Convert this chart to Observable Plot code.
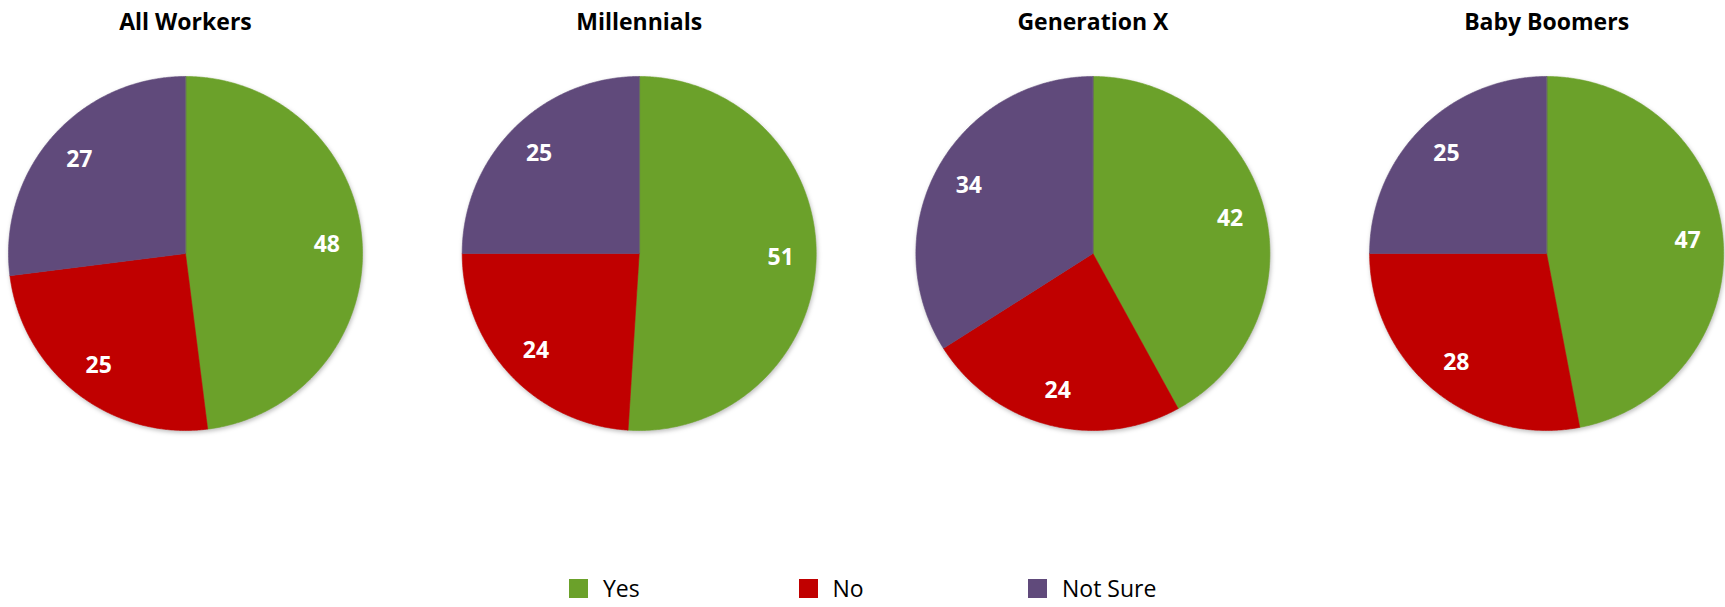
<!DOCTYPE html>
<html><head><meta charset="utf-8">
<script src="https://cdn.jsdelivr.net/npm/d3@7"></script>
<script src="https://cdn.jsdelivr.net/npm/@observablehq/plot@0.6"></script>
<style>
html,body{margin:0;padding:0;background:#fff;overflow:hidden;width:1725px;height:607px;}
#chart{position:absolute;left:0;top:0;}
#legend{position:absolute;left:569px;top:572px;}
</style></head><body>
<div id="chart"></div><div id="legend"></div>
<script>
// ---- data ----
const groups = ["All Workers", "Millennials", "Generation X", "Baby Boomers"];
const answers = ["Yes", "No", "Not Sure"];
const yesValues = [48, 51, 42, 47];
const noValues = [25, 24, 24, 28];
const notSureValues = [27, 25, 34, 25];
const answerColors = ["#6BA12A", "#C00000", "#604A7B"];

// ---- layout ----
const W = 1725, H = 570, R = 177, CX0 = 185, CY = 253, STEP = 453.7;
const seriesValues = [yesValues, noValues, notSureValues];
const cxOf = i => i * STEP / R;

const slices = [];
groups.forEach((g, i) => {
  const total = d3.sum(seriesValues, s => s[i]);
  let acc = 0;
  answers.forEach((a, j) => {
    const v = seriesValues[j][i];
    slices.push({group: g, gi: i, answer: a, value: v, start: acc / total, end: (acc + v) / total});
    acc += v;
  });
});

const outline = [];
for (const s of slices) {
  const key = s.group + "|" + s.answer;
  const a0 = s.start * 2 * Math.PI, a1 = s.end * 2 * Math.PI;
  const n = Math.max(2, Math.ceil((a1 - a0) / (Math.PI / 360)));
  outline.push({key, answer: s.answer, x: cxOf(s.gi), y: 0});
  for (let k = 0; k <= n; k++) {
    const t = a0 + (a1 - a0) * k / n;
    outline.push({key, answer: s.answer, x: cxOf(s.gi) + Math.sin(t), y: Math.cos(t)});
  }
}
const labels = slices.map(s => {
  const t = (s.start + s.end) * Math.PI;
  return {...s, x: cxOf(s.gi) + 0.8 * Math.sin(t), y: 0.8 * Math.cos(t)};
});

const chart = Plot.plot({
  width: W, height: H, margin: 0,
  x: {domain: [-CX0 / R, (W - CX0) / R], axis: null},
  y: {domain: [-(H - CY) / R, CY / R], axis: null},
  color: {domain: answers, range: answerColors},
  style: {fontFamily: "'Open Sans', sans-serif", background: "#fff", overflow: "visible"},
  marks: [
    Plot.line(outline, {x: "x", y: "y", z: "key", fill: "answer", stroke: "answer", strokeWidth: 0.6, curve: "linear-closed"}),
    Plot.text(labels, {x: "x", y: "y", text: d => String(d.value), fill: "white", fontWeight: "bold", fontSize: 23}),
    Plot.text(groups, {x: (d, i) => cxOf(i), frameAnchor: "top", lineAnchor: "top", dy: 13, text: d => d, fontWeight: "bold", fontSize: 23, fill: "black"})
  ]
});
const pieG = chart.querySelector('g[aria-label="line"]');
if (pieG) pieG.style.filter = "drop-shadow(1px 2px 2px rgba(0,0,0,0.25))";
document.getElementById("chart").appendChild(chart);

const legend = Plot.legend({
  color: {type: "ordinal", domain: answers, range: answerColors},
  swatchWidth: 19, swatchHeight: 19,
  style: {fontSize: "23px", lineHeight: "31px", fontFamily: "'Open Sans', sans-serif", color: "#000"}
});
legend.querySelectorAll("svg").forEach(svg => {
  svg.style.marginRight = "15px";
  const item = svg.parentElement;
  item.style.width = "229.5px";
  item.style.marginRight = "0";
  item.style.flex = "0 0 auto";
});
document.getElementById("legend").appendChild(legend);
</script>
</body></html>
